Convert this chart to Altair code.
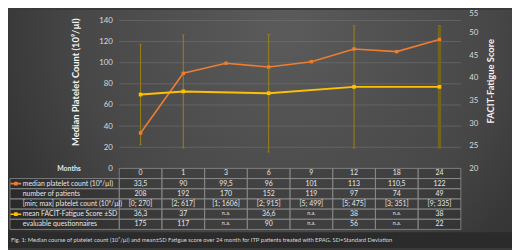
import altair as alt
import pandas as pd

# ---------------- data ----------------
months = ["0", "1", "3", "6", "9", "12", "18", "24"]
platelet_median = [33.5, 90, 99.5, 96, 101, 113, 110.5, 122]
patients = [208, 192, 170, 152, 119, 97, 74, 49]
platelet_range = ["[0; 270]", "[2; 617]", "[1; 1606]", "[2; 915]",
                  "[5; 499]", "[5; 475]", "[3; 351]", "[9; 335]"]
facit_mean = [36.3, 37, None, 36.6, None, 38, None, 38]
facit_sd = [11.1, 12.5, None, 13.0, None, 13.5, None, 13.5]
evaluable = [175, 117, None, 90, None, 56, None, 22]

row_keys = ["months", "median", "patients", "range", "facit", "evaluable"]
row_labels = ["Months", "median platelet count (10⁹/µl)", "number of patients",
              "[min; max] platelet count (10⁹/µl)", "mean FACIT-Fatigue Score ±SD",
              "evaluable questionnaires"]
left_ticks = [0, 20, 40, 60, 80, 100, 120, 140]
right_ticks = [20, 25, 30, 35, 40, 45, 50, 55]

left_title = "Median Platelet Count (10⁹/µl)"
right_title = "FACIT-Fatigue Score"
caption = ("Fig. 1:   Median course of platelet count (10⁹/µl) and mean±SD Fatigue score "
           "over 24 month for ITP patients treated with EPAG. SD=Standard Deviation")

# ---------------- tables ----------------
def de(v):
    return "n.a." if v is None else str(v).replace(".", ",")

series = pd.DataFrame({"month": months, "platelet": platelet_median,
                       "facit": facit_mean, "sd": facit_sd})

cells = []
for i, m in enumerate(months):
    vals = [m, de(platelet_median[i]), str(patients[i]), platelet_range[i],
            de(facit_mean[i]), de(evaluable[i])]
    for k, v in zip(row_keys, vals):
        cells.append({"month": m, "row": k, "text": v})
cells = pd.DataFrame(cells)
labels = pd.DataFrame({"row": row_keys, "label": row_labels})
grid_df = pd.DataFrame({"v": left_ticks[1:]})

FONT = "Lato"
ORANGE = "#ED7D31"
YELLOW = "#FFC000"
ERR = "#9C8214"
TXT = "#e6e6e6"

W, H = 347, 223
PLOT_H = 161

xenc = alt.X("month:O", scale=alt.Scale(type="band", domain=months,
                                         paddingInner=0, paddingOuter=0), axis=None)

left_scale = alt.Scale(domain=[0, 150], range=[PLOT_H, 0], nice=False, zero=False)
right_scale = alt.Scale(domain=[20, 55], range=[PLOT_H, 0], nice=False, zero=False)
table_scale = alt.Scale(domain=row_keys, range=[PLOT_H, H], paddingInner=0, paddingOuter=0)

left_axis = alt.Axis(orient="left", values=left_ticks, grid=False, zindex=2,
                     domain=False, ticks=False, labelPadding=7,
                     labelFontSize=8, labelColor="#d9d9d9", labelFont=FONT,
                     title=left_title, titleFont=FONT, titleFontSize=9.5,
                     titleFontWeight="bold", titleColor="#f2f2f2", titleAngle=270,
                     titleX=-44, titleY=73, titleAlign="center", titleBaseline="middle")
right_axis = alt.Axis(orient="right", values=right_ticks, grid=False, zindex=2,
                      domain=False, ticks=False, labelPadding=8, labelFontSize=8,
                      labelColor="#d9d9d9", labelFont=FONT,
                      labelBaseline={"condition": {"test": "datum.value == 55",
                                                   "value": "top"},
                                     "value": "middle"},
                      title=right_title,
                      titleFont=FONT, titleFontSize=9.5, titleFontWeight="bold",
                      titleColor="#f2f2f2", titleAngle=270, titleX=30, titleY=72,
                      titleAlign="center", titleBaseline="middle")

# ---------------- background ----------------
one = pd.DataFrame({"a": [0]})
bg = alt.Chart(one).mark_rect(
    fill=alt.RadialGradient(gradient="radial", x1=0.55, y1=0.3, r1=0.0,
                            x2=0.55, y2=0.3, r2=0.75,
                            stops=[alt.GradientStop(offset=0, color="#5b5b5b"),
                                   alt.GradientStop(offset=0.55, color="#474747"),
                                   alt.GradientStop(offset=1, color="#262626")])
).encode(x=alt.value(-113), x2=alt.value(399), y=alt.value(0), y2=alt.value(242))
strip = alt.Chart(one).mark_rect(fill="#2b2b2b").encode(
    x=alt.value(-113), x2=alt.value(399), y=alt.value(226), y2=alt.value(242))
cap = alt.Chart(pd.DataFrame({"t": [caption]})).mark_text(
    font=FONT, fontSize=5.9, color="#d6d6d6", align="left", baseline="middle").encode(
    x=alt.value(-110), y=alt.value(233.5), text="t:N")

# gridlines (left scale)
grid = alt.Chart(grid_df).mark_rule(color="#6e6e6e", strokeWidth=0.7).encode(
    y=alt.Y("v:Q", scale=left_scale, axis=None), x=alt.value(0), x2=alt.value(W))

# ---------------- left series ----------------
base = alt.Chart(series)
orange_line = base.mark_line(color=ORANGE, strokeWidth=1.6).encode(
    x=xenc, y=alt.Y("platelet:Q", scale=left_scale, axis=left_axis))
orange_pts = base.mark_point(shape="square", filled=True, size=12, color=ORANGE,
                             opacity=1).encode(
    x=xenc, y=alt.Y("platelet:Q", scale=left_scale, axis=None))

# ---------------- right series ----------------
fb = alt.Chart(series).transform_filter("isValid(datum.facit)").transform_calculate(
    lo="datum.facit - datum.sd", hi="datum.facit + datum.sd")
is24 = "datum.month == '24'"
err = fb.mark_rule().encode(
    x=xenc, y=alt.Y("lo:Q", scale=right_scale, axis=right_axis), y2="hi:Q",
    strokeWidth=alt.condition(is24, alt.value(3.5), alt.value(1)),
    color=alt.condition(is24, alt.value("#6f6420"), alt.value(ERR)))
cap_lo = fb.mark_tick(color=ERR, size=3, thickness=1).encode(
    x=xenc, y=alt.Y("lo:Q", scale=right_scale, axis=None))
cap_hi = fb.mark_tick(color=ERR, size=3, thickness=1).encode(
    x=xenc, y=alt.Y("hi:Q", scale=right_scale, axis=None))
y_line = fb.mark_line(color=YELLOW, strokeWidth=2).encode(
    x=xenc, y=alt.Y("facit:Q", scale=right_scale, axis=None))
y_pts = fb.mark_point(shape="square", filled=True, size=14, color=YELLOW,
                      opacity=1).encode(
    x=xenc, y=alt.Y("facit:Q", scale=right_scale, axis=None))

# ---------------- table ----------------
ty = alt.Y("row:N", scale=table_scale, axis=None)
tc = alt.Chart(cells)
cell_rects = tc.mark_rect(fill="#000000", fillOpacity=0.12, stroke="#8e8e8e",
                          strokeWidth=0.8).encode(x=xenc, y=ty)
cell_text = tc.transform_filter("datum.text != 'n.a.'").mark_text(
    font=FONT, fontSize=7, color=TXT, baseline="middle").encode(x=xenc, y=ty, text="text:N")
cell_na = tc.transform_filter("datum.text == 'n.a.'").mark_text(
    font=FONT, fontSize=5.5, color=TXT, baseline="middle", dy=-1).encode(
    x=xenc, y=ty, text="text:N")

lc = alt.Chart(labels)
lab_rects = lc.transform_filter("datum.row != 'months'").mark_rect(
    fill="#000000", fillOpacity=0.12, stroke="#8e8e8e", strokeWidth=0.8).encode(
    x=alt.value(-111), x2=alt.value(0), y=ty)
lab_text = lc.transform_filter("datum.row != 'months'").mark_text(
    font=FONT, fontSize=7, color=TXT, align="left", baseline="middle").encode(
    x=alt.value(-98), y=ty, text="label:N")
months_text = lc.transform_filter("datum.row == 'months'").mark_text(
    font=FONT, fontSize=7, fontWeight="bold", color=TXT, align="center",
    baseline="middle", dy=-4).encode(x=alt.value(-51), y=ty, text="label:N")

sym = "M-1,-0.14 H1 V0.14 H-1 Z M-0.33,-0.33 H0.33 V0.33 H-0.33 Z"
leg_o = lc.transform_filter("datum.row == 'median'").mark_point(
    shape=sym, filled=True, size=121, color=ORANGE, opacity=1).encode(
    x=alt.value(-105), y=ty)
leg_y = lc.transform_filter("datum.row == 'facit'").mark_point(
    shape=sym, filled=True, size=121, color=YELLOW, opacity=1).encode(
    x=alt.value(-105), y=ty)

chart = alt.layer(
    bg, strip, cap, grid,
    orange_line, err, cap_lo, cap_hi, orange_pts, y_line, y_pts,
    cell_rects, cell_text, cell_na, lab_rects, lab_text, months_text, leg_o, leg_y,
).resolve_scale(y="independent").properties(
    width=W, height=H,
    autosize=alt.AutoSizeParams(type="none"),
    padding={"left": 113, "top": 0, "right": 52, "bottom": 19},
    background="#3a3a3a",
).configure_view(stroke=None)

chart.save("out.html", embed_options={"renderer": "svg", "actions": False})
